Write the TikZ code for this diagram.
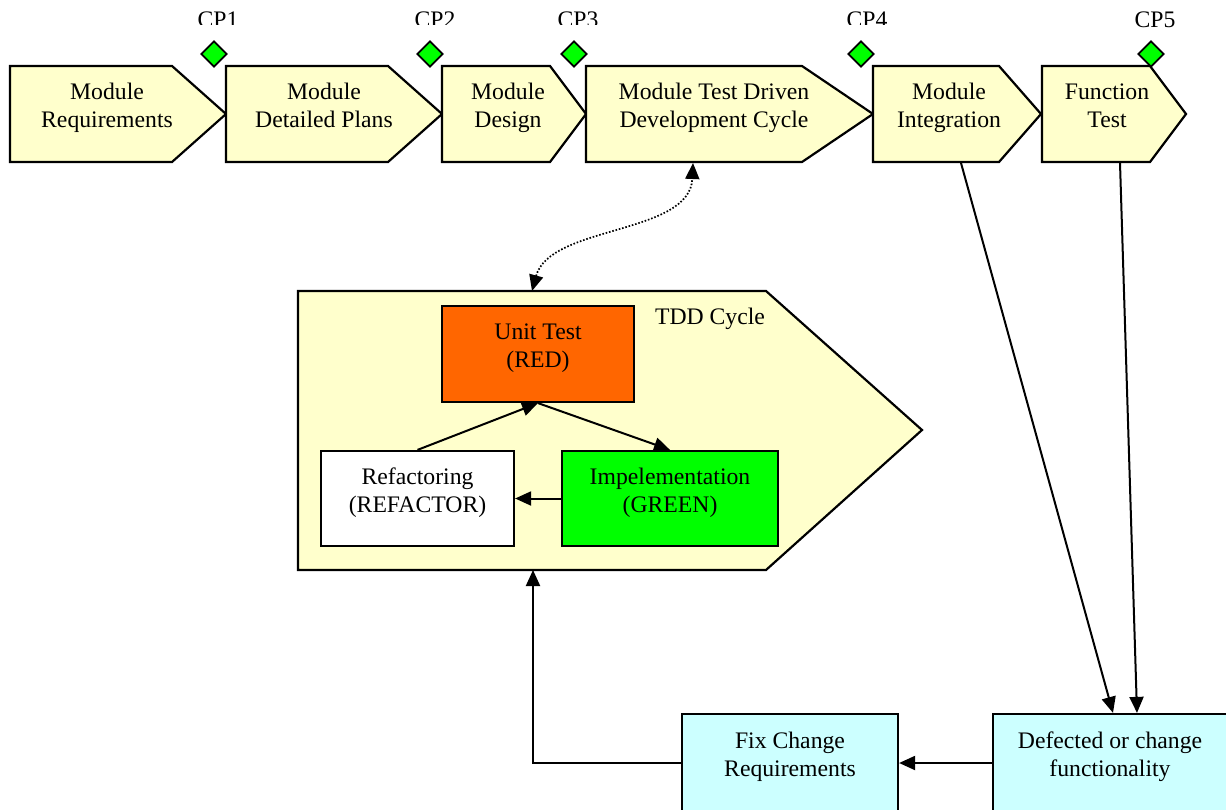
\documentclass[tikz,border=0pt]{standalone}
\usepackage{fontspec}
\setmainfont{Liberation Serif}
\usetikzlibrary{arrows.meta,shapes.geometric,calc}
\definecolor{stepfill}{HTML}{FFFFCC}
\definecolor{fixfill}{HTML}{CCFFFF}
\definecolor{redfill}{HTML}{FF6600}
\definecolor{greenfill}{HTML}{00FF00}
% pentagon-shaped process step: left edge, start of point, tip
\newcommand\drawstep[3]{%
  \draw[stepshape] (#1,66) -- (#2,66) -- (#3,114) -- (#2,162) -- (#1,162) -- cycle;}
% two struted lines, so every two-line label sits the same way
\newcommand\twolines[2]{\strut#1\\\strut#2}
\begin{document}
\begin{tikzpicture}[x=1pt,y=-1pt,
  txt/.style={font=\fontsize{23.7}{28}\selectfont,align=center,inner sep=0pt},
  outline/.style={draw=black,line width=2.2pt,line join=miter},
  stepshape/.style={outline,fill=stepfill},
  box/.style={outline,inner sep=0pt},
  cp/.style={diamond,draw=black,line width=1.8pt,fill=greenfill,minimum size=26pt,inner sep=0pt},
  arr/.style={line width=2pt,-{Triangle[length=16pt,width=14pt]}},
  link/.style={line width=1.7pt,dash pattern=on 1.6pt off 1.8pt,
    {Triangle[length=16pt,width=14pt]}-{Triangle[length=16pt,width=14pt]}}]
\useasboundingbox (0,0) rectangle (1226,810);
\fill[white] (0,0) rectangle (1226,810);

% process steps along the top
\drawstep{10}{172}{226}
\drawstep{226}{388}{442}
\drawstep{442}{550}{586}
\drawstep{586}{802}{873}
\drawstep{873}{999}{1041}
\drawstep{1042}{1150}{1186}
\node[txt] (s1) at (107,108) {\twolines{Module}{Requirements}};
\node[txt] (s2) at (324,108) {\twolines{Module}{Detailed Plans}};
\node[txt] (s3) at (508,108) {\twolines{Module}{Design}};
\node[txt] (s4) at (714,108) {\twolines{Module Test Driven}{Development Cycle}};
\node[txt] (s5) at (949,108) {\twolines{Module}{Integration}};
\node[txt] (s6) at (1107,108) {\twolines{Function}{Test}};
\coordinate (s4b) at (693,163);
\coordinate (s5b) at (961,163);
\coordinate (s6b) at (1120,163);

% checkpoints
\node[cp] (cp1) at (214,54) {};
\node[cp] (cp2) at (430,54) {};
\node[cp] (cp3) at (574,54) {};
\node[cp] (cp4) at (861,54) {};
\node[cp] (cp5) at (1151,54) {};
\begin{scope}
  \clip (0,0) rectangle (1226,24.5);
  \node[txt,anchor=base] (c1) at (218,28) {CP1};
  \node[txt,anchor=base] (c2) at (435,28) {CP2};
  \node[txt,anchor=base] (c3) at (578,28) {CP3};
  \node[txt,anchor=base] (c4) at (867,28) {CP4};
\end{scope}
\node[txt,anchor=base] (c5) at (1155,28) {CP5};

% TDD cycle
\draw[stepshape] (298,291) -- (766,291) -- (922,430) -- (766,570) -- (298,570) -- cycle;
\coordinate (tddtop) at (532,291);
\coordinate (tddbot) at (533,570);
\node[txt] (tddlbl) at (710,319) {TDD Cycle};

\node[box,fill=redfill,minimum width=192,minimum height=96] (unit) at (538,354) {};
\node[txt] (unitt) at (538,348) {\twolines{Unit Test}{(RED)}};
\node[box,fill=white,minimum width=193,minimum height=95] (refac) at (417.5,498.5) {};
\node[txt] (refact) at (417.5,493) {\twolines{Refactoring}{(REFACTOR)}};
\node[box,fill=greenfill,minimum width=216,minimum height=95] (impl) at (670,498.5) {};
\node[txt] (implt) at (670,493) {\twolines{Impelementation}{(GREEN)}};

\draw[arr] (refac.north) -- (unit.south);
\draw[arr] (unit.south) -- (impl.north);
\draw[arr] (impl.west) -- (refac.east);

% link between the step and the cycle
\draw[link] (tddtop) .. controls (550,225) and (690,235) .. (s4b);

% feedback boxes
\node[box,fill=fixfill,minimum width=216,minimum height=98] (fix) at (790,763) {};
\node[txt] (fixt) at (790,757) {\twolines{Fix Change}{Requirements}};
\node[box,fill=fixfill,minimum width=240,minimum height=98] (def) at (1113,763) {};
\node[txt] (deft) at (1110,757) {\twolines{Defected or change}{functionality}};

\draw[arr] (s5b) -- (def.north);
\draw[arr] (s6b) -- ([xshift=24pt]def.north);
\draw[arr] (def.west) -- (fix.east);
\draw[arr] (fix.west) -| (tddbot);
\end{tikzpicture}
\end{document}
